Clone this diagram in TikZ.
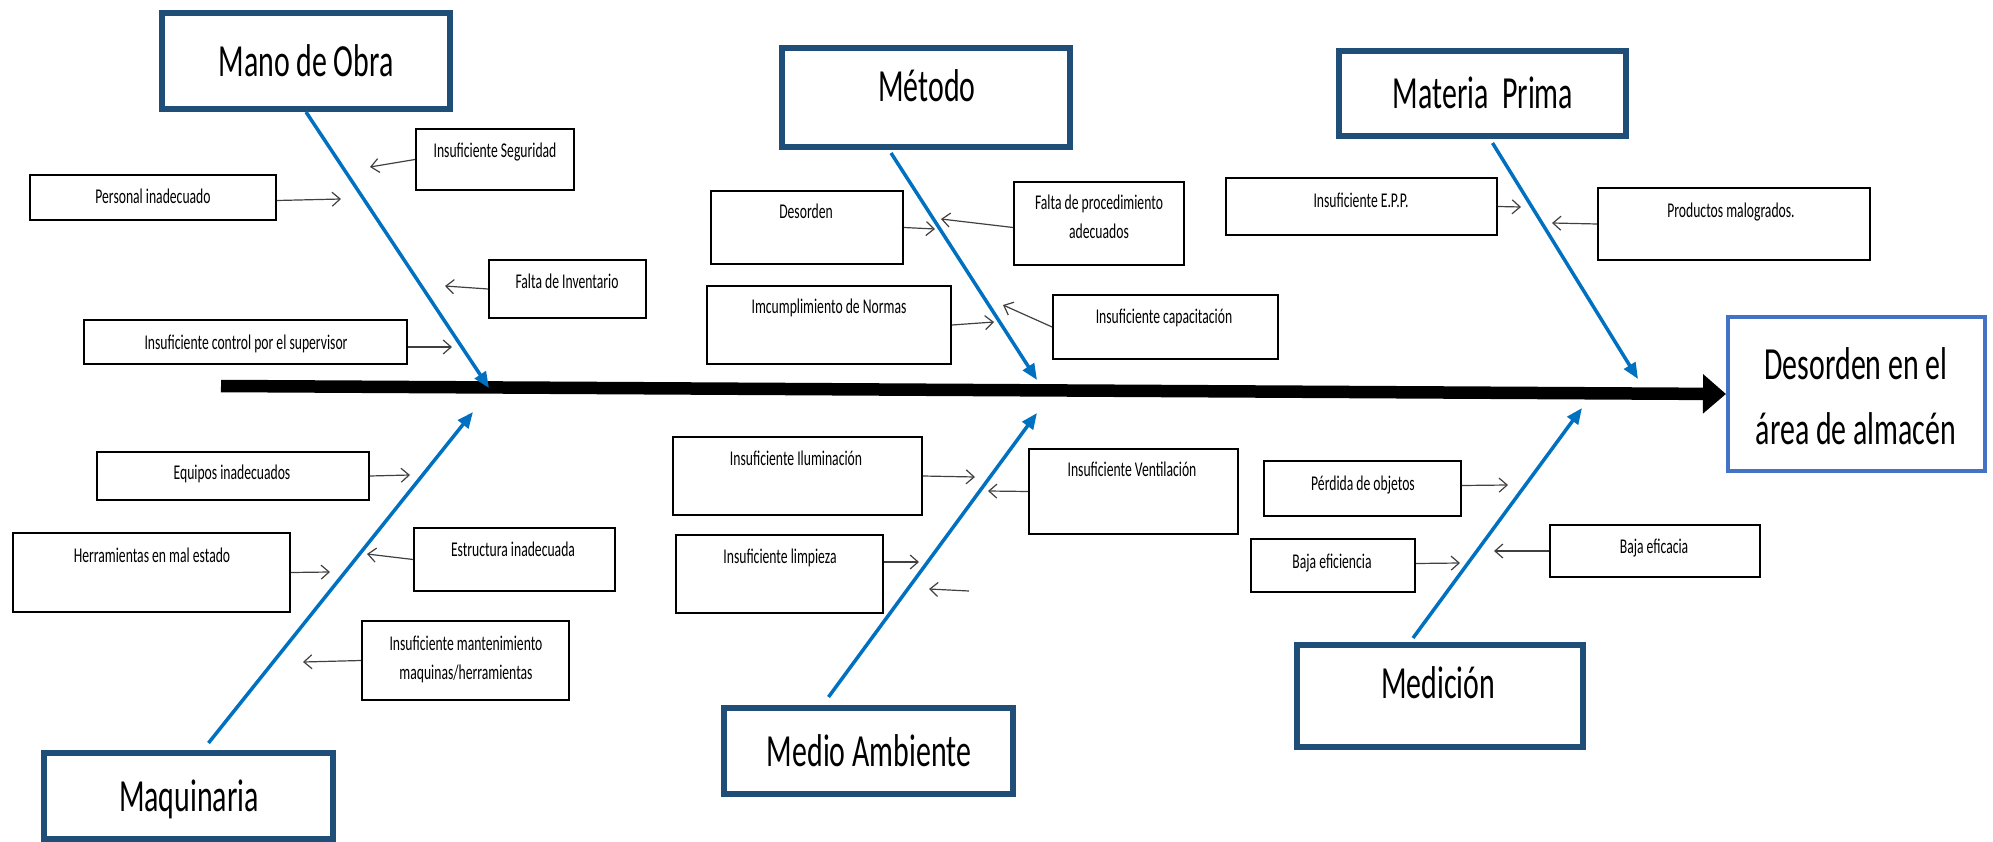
\documentclass[tikz,border=0pt]{standalone}
\usepackage{fontspec}
\setmainfont{Carlito}[FakeStretch=0.65]
\usetikzlibrary{arrows.meta}
\definecolor{catblue}{HTML}{1F4E79}
\definecolor{spineblue}{HTML}{0070C0}
\definecolor{resblue}{HTML}{4472C4}
\definecolor{arrgray}{HTML}{404040}
\begin{document}
\begin{tikzpicture}[x=1pt,y=-1pt,
  catbox/.style={draw=catblue, line width=6pt, fill=white, inner sep=0pt},
  resbox/.style={draw=resblue, line width=4pt, fill=white, inner sep=0pt},
  causebox/.style={draw=black, line width=1.8pt, fill=white, inner sep=0pt},
  bigtxt/.style={font=\fontsize{46}{65}\selectfont, align=center, inner sep=0pt, text height=34pt, text depth=6pt},
  restxt/.style={font=\fontsize{46}{65}\selectfont, align=center, inner sep=0pt},
  smalltxt/.style={font=\fontsize{21}{29}\selectfont, align=center, inner sep=0pt, text height=15pt, text depth=3pt},
  smalltwo/.style={font=\fontsize{21}{29}\selectfont, align=center, inner sep=0pt},
  spinearrow/.style={draw=spineblue, line width=3.5pt, -{Triangle[length=16pt,width=13pt]}},
  causearrow/.style={draw=arrgray, line width=1.2pt, -{Straight Barb[length=8pt,width=14pt]}},
  mainarrow/.style={draw=black, line width=12.5pt, -{Triangle[length=23pt,width=38pt]}},
]
\useasboundingbox (0,0) rectangle (1993,842);

% ---- main spine and effect ----
\node[resbox, minimum width=257, minimum height=154] (res) at (1856.5,394) {};
\node[restxt] (resT) at (1856,396) {Desorden en el\\área de almacén};
\coordinate (mainS) at (221,386);
\draw[mainarrow] (mainS) -- (res.west);

% ---- category boxes ----
\node[catbox, minimum width=288, minimum height=96] (mano) at (306,61) {};
\node[bigtxt] (manoT) at (306,63) {Mano de Obra};
\node[catbox, minimum width=288, minimum height=99] (met) at (926,97.5) {};
\node[bigtxt] (metT) at (927,88) {Método};
\node[catbox, minimum width=287, minimum height=85] (mat) at (1482.5,93.5) {};
\node[bigtxt] (matT) at (1483,95) {Materia\ \ Prima};
\node[catbox, minimum width=289, minimum height=86] (maq) at (188.5,796) {};
\node[bigtxt] (maqT) at (189,797) {Maquinaria};
\node[catbox, minimum width=289, minimum height=86] (med) at (868.5,751) {};
\node[bigtxt] (medT) at (869,752) {Medio Ambiente};
\node[catbox, minimum width=286, minimum height=102] (mic) at (1440,696) {};
\node[bigtxt] (micT) at (1438,684) {Medición};

% ---- spine arrow tips ----
\coordinate (manoE) at (489,388);
\coordinate (metE) at (1037,380);
\coordinate (matE) at (1638,379);
\coordinate (maqE) at (473,412);
\coordinate (medE) at (1037,413);
\coordinate (micE) at (1582,408);
\draw[spinearrow] (mano.south) -- (manoE);
\draw[spinearrow] ([xshift=-35pt,yshift=-3pt]met.south) -- (metE);
\draw[spinearrow] ([xshift=10pt,yshift=-4pt]mat.south) -- (matE);
\draw[spinearrow] ([xshift=20pt,yshift=7pt]maq.north) -- (maqE);
\draw[spinearrow] ([xshift=-40pt,yshift=8pt]med.north) -- (medE);
\draw[spinearrow] ([xshift=-27pt,yshift=4pt]mic.north) -- (micE);

% ---- cause boxes: Mano de Obra ----
\node[causebox, minimum width=158, minimum height=61] (seg) at (495,159.5) {};
\node[smalltxt] (segT) at (495,152) {Insuficiente Seguridad};
\node[causebox, minimum width=246, minimum height=45] (per) at (153,197.5) {};
\node[smalltxt] (perT) at (153,198) {Personal inadecuado};
\node[causebox, minimum width=157, minimum height=58] (inv) at (567.5,289) {};
\node[smalltxt] (invT) at (567,282) {Falta de Inventario};
\node[causebox, minimum width=323, minimum height=44] (sup) at (245.5,342) {};
\node[smalltxt] (supT) at (246,343) {Insuficiente control por el supervisor};

% ---- Método ----
\node[causebox, minimum width=192, minimum height=73] (des) at (807,227.5) {};
\node[smalltxt] (desT) at (806,213) {Desorden};
\node[causebox, minimum width=170, minimum height=83] (pro) at (1099,223.5) {};
\node[smalltwo] (proT) at (1099,217) {Falta de procedimiento\\adecuados};
\node[causebox, minimum width=244, minimum height=78] (imc) at (829,325) {};
\node[smalltxt] (imcT) at (829,307) {Imcumplimiento de Normas};
\node[causebox, minimum width=225, minimum height=64] (cap) at (1165.5,327) {};
\node[smalltxt] (capT) at (1164,317) {Insuficiente capacitación};

% ---- Materia Prima ----
\node[causebox, minimum width=271, minimum height=57] (epp) at (1361.5,206.5) {};
\node[smalltxt] (eppT) at (1361,202) {Insuficiente E.P.P.};
\node[causebox, minimum width=272, minimum height=72] (mal) at (1734,224) {};
\node[smalltxt] (malT) at (1731,212) {Productos malogrados.};

% ---- Maquinaria ----
\node[causebox, minimum width=272, minimum height=48] (equ) at (233,476) {};
\node[smalltxt] (equT) at (232,473) {Equipos inadecuados};
\node[causebox, minimum width=277, minimum height=79] (her) at (151.5,572.5) {};
\node[smalltxt] (herT) at (152,556) {Herramientas en mal estado};
\node[causebox, minimum width=201, minimum height=63] (est) at (514.5,559.5) {};
\node[smalltxt] (estT) at (513,550) {Estructura inadecuada};
\node[causebox, minimum width=207, minimum height=79] (man) at (465.5,660.5) {};
\node[smalltwo] (manT) at (466,659) {Insuficiente mantenimiento\\maquinas/herramientas};

% ---- Medio Ambiente ----
\node[causebox, minimum width=249, minimum height=78] (ilu) at (797.5,476) {};
\node[smalltxt] (iluT) at (796,459) {Insuficiente Iluminación};
\node[causebox, minimum width=207, minimum height=78] (lim) at (779.5,574) {};
\node[smalltxt] (limT) at (780,557) {Insuficiente limpieza};
\node[causebox, minimum width=209, minimum height=85] (ven) at (1133.5,491.5) {};
\node[smalltxt] (venT) at (1132,470) {Insuficiente Ventilación};

% ---- Medición ----
\node[causebox, minimum width=197, minimum height=55] (obj) at (1362.5,488.5) {};
\node[smalltxt] (objT) at (1363,484) {Pérdida de objetos};
\node[causebox, minimum width=164, minimum height=53] (bef) at (1333,565.5) {};
\node[smalltxt] (befT) at (1332,562) {Baja eficiencia};
\node[causebox, minimum width=210, minimum height=52] (bfc) at (1655,551) {};
\node[smalltxt] (bfcT) at (1654,547) {Baja eficacia};

% ---- cause arrow tips ----
\coordinate (segE) at (370,167);
\coordinate (perE) at (341,199);
\coordinate (invE) at (445,286);
\coordinate (supE) at (452,347);
\coordinate (desE) at (935,229);
\coordinate (proE) at (941,219);
\coordinate (imcE) at (994,322);
\coordinate (capE) at (1003,305);
\coordinate (eppE) at (1521,207);
\coordinate (malE) at (1552,223);
\coordinate (equE) at (410,475);
\coordinate (herE) at (330,572);
\coordinate (estE) at (367,554);
\coordinate (manE) at (303,662);
\coordinate (iluE) at (975,477);
\coordinate (limE) at (919,562);
\coordinate (venE) at (988,491);
\coordinate (orS) at (969,591);
\coordinate (orE) at (929,589);
\coordinate (objE) at (1508,485);
\coordinate (befE) at (1460,563);
\coordinate (bfcE) at (1494,551);

\draw[causearrow] (seg.west) -- (segE);
\draw[causearrow] ([yshift=-3pt]per.east) -- (perE);
\draw[causearrow] (inv.west) -- (invE);
\draw[causearrow] ([yshift=-5pt]sup.east) -- (supE);
\draw[causearrow] (des.east) -- (desE);
\draw[causearrow] ([yshift=-4pt]pro.west) -- (proE);
\draw[causearrow] (imc.east) -- (imcE);
\draw[causearrow] (cap.west) -- (capE);
\draw[causearrow] (epp.east) -- (eppE);
\draw[causearrow] (mal.west) -- (malE);
\draw[causearrow] (equ.east) -- (equE);
\draw[causearrow] (her.east) -- (herE);
\draw[causearrow] (est.west) -- (estE);
\draw[causearrow] (man.west) -- (manE);
\draw[causearrow] (ilu.east) -- (iluE);
\draw[causearrow] ([yshift=12pt]lim.east) -- (limE);
\draw[causearrow] (ven.west) -- (venE);
\draw[causearrow] (orS) -- (orE);
\draw[causearrow] ([yshift=3pt]obj.east) -- (objE);
\draw[causearrow] ([yshift=2pt]bef.east) -- (befE);
\draw[causearrow] (bfc.west) -- (bfcE);
\end{tikzpicture}
\end{document}
